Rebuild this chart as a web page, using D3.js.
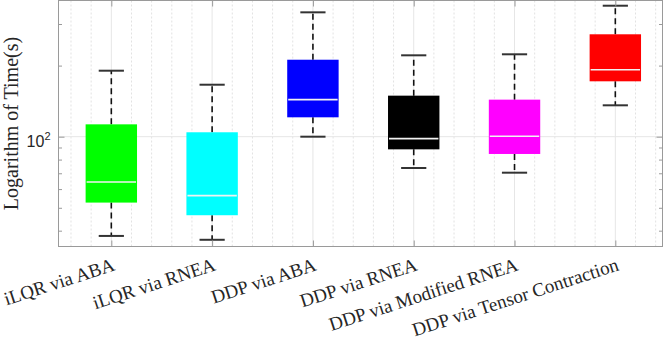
<!DOCTYPE html>
<html>
<head>
<meta charset="utf-8">
<script src="https://cdn.jsdelivr.net/npm/d3@7"></script>
<style>
  body { margin: 0; background: #fff; }
  svg { display: block; }
</style>
</head>
<body>
<div id="chart"></div>
<script>
// Box plot data (seconds)
const categories = ["iLQR via ABA", "iLQR via RNEA", "DDP via ABA", "DDP via RNEA",
                    "DDP via Modified RNEA", "DDP via Tensor Contraction"];
const whiskerLow  = [38.0, 36.6, 100.0, 73.7, 70.4, 135.8];
const q1          = [52.6, 46.5, 120.8, 88.4, 84.5, 171.6];
const medians     = [64.3, 56.3, 143.5, 98.1, 100.4, 192.1];
const q3          = [112.8, 104.4, 211.8, 149.2, 143.5, 271.4];
const whiskerHigh = [190.3, 166.0, 336.2, 221.1, 223.3, 358.6];
const boxColors   = ["#00ff00", "#00ffff", "#0000ff", "#000000", "#ff00ff", "#ff0000"];
const yMajorTicks = [100];
const yMinorTicks = [40, 50, 60, 70, 80, 90, 200, 300];

function drawChart() {
    const W = 664, H = 346;
    const left = 58.5, right = 662.5, top = 0.5, bottom = 246.5;

    const svg = d3.select("#chart").append("svg")
        .attr("width", W).attr("height", H);

    const x = d3.scaleLinear().domain([0.476, 6.468]).range([left, right]);
    const y = d3.scaleLog().domain([34.28, 377.3]).range([bottom, top]);

    const grid = svg.append("g");

    // minor vertical grid (dotted)
    const minorX = d3.range(0.6, 6.45, 0.2).filter(v => Math.abs(v - Math.round(v)) > 0.05);
    grid.selectAll(".mgx").data(minorX).enter().append("line")
        .attr("x1", d => x(d)).attr("x2", d => x(d))
        .attr("y1", top).attr("y2", bottom)
        .attr("stroke", "#e2e2e2").attr("stroke-width", 1)
        .attr("stroke-dasharray", "2,2");

    // major grid
    grid.selectAll(".gx").data(d3.range(1, categories.length + 1)).enter().append("line")
        .attr("x1", d => x(d)).attr("x2", d => x(d))
        .attr("y1", top).attr("y2", bottom)
        .attr("stroke", "#e6e6e6").attr("stroke-width", 1);
    grid.selectAll(".gy").data(yMajorTicks).enter().append("line")
        .attr("x1", left).attr("x2", right)
        .attr("y1", d => y(d)).attr("y2", d => y(d))
        .attr("stroke", "#e6e6e6").attr("stroke-width", 1);

    // boxes
    const boxW = 0.51, capW = 0.25;
    const data = categories.map((c, i) => ({
        pos: i + 1, lo: whiskerLow[i], q1: q1[i], med: medians[i],
        q3: q3[i], hi: whiskerHigh[i], color: boxColors[i]
    }));
    const g = svg.append("g");

    // whiskers
    g.selectAll(".wu").data(data).enter().append("line")
        .attr("x1", d => x(d.pos)).attr("x2", d => x(d.pos))
        .attr("y1", d => y(d.q3)).attr("y2", d => y(d.hi))
        .attr("stroke", "#111").attr("stroke-width", 1.6)
        .attr("stroke-dasharray", "6,4");
    g.selectAll(".wl").data(data).enter().append("line")
        .attr("x1", d => x(d.pos)).attr("x2", d => x(d.pos))
        .attr("y1", d => y(d.q1)).attr("y2", d => y(d.lo))
        .attr("stroke", "#111").attr("stroke-width", 1.6)
        .attr("stroke-dasharray", "6,4");

    // caps
    ["hi", "lo"].forEach(k => {
        g.selectAll(".cap-" + k).data(data).enter().append("line")
            .attr("x1", d => x(d.pos - capW / 2)).attr("x2", d => x(d.pos + capW / 2))
            .attr("y1", d => y(d[k])).attr("y2", d => y(d[k]))
            .attr("stroke", "#333").attr("stroke-width", 2);
    });

    // box rectangles
    g.selectAll(".box").data(data).enter().append("rect")
        .attr("x", d => x(d.pos - boxW / 2))
        .attr("width", d => x(d.pos + boxW / 2) - x(d.pos - boxW / 2))
        .attr("y", d => y(d.q3))
        .attr("height", d => y(d.q1) - y(d.q3))
        .attr("fill", d => d.color);

    // medians
    g.selectAll(".med").data(data).enter().append("line")
        .attr("x1", d => x(d.pos - boxW / 2) + 1).attr("x2", d => x(d.pos + boxW / 2) - 1)
        .attr("y1", d => y(d.med)).attr("y2", d => y(d.med))
        .attr("stroke", "#f2f2f2").attr("stroke-width", 1.6);

    // axes (ticks pointing inward)
    const axColor = "#9a9a9a";
    const axes = svg.append("g");
    const styleAxis = sel => {
        sel.select(".domain").remove();
        sel.selectAll(".tick line").attr("stroke", axColor);
        sel.selectAll(".tick text").remove();
    };
    axes.append("g").attr("transform", `translate(0,${bottom})`)
        .call(d3.axisBottom(x).tickValues(d3.range(1, 7)).tickSize(-6)).call(styleAxis);
    axes.append("g").attr("transform", `translate(0,${top})`)
        .call(d3.axisTop(x).tickValues(d3.range(1, 7)).tickSize(-6)).call(styleAxis);
    axes.append("g").attr("transform", `translate(${left},0)`)
        .call(d3.axisLeft(y).tickValues(yMajorTicks).tickSize(-6)).call(styleAxis);
    axes.append("g").attr("transform", `translate(${left},0)`)
        .call(d3.axisLeft(y).tickValues(yMinorTicks).tickSize(-3.5)).call(styleAxis);
    axes.append("g").attr("transform", `translate(${right},0)`)
        .call(d3.axisRight(y).tickValues(yMajorTicks).tickSize(-6)).call(styleAxis);
    axes.append("g").attr("transform", `translate(${right},0)`)
        .call(d3.axisRight(y).tickValues(yMinorTicks).tickSize(-3.5)).call(styleAxis);

    axes.append("rect")
        .attr("x", left).attr("y", top)
        .attr("width", right - left).attr("height", bottom - top)
        .attr("fill", "none").attr("stroke", axColor).attr("stroke-width", 1);

    // y tick label 10^2
    yMajorTicks.forEach(v => {
        const t = svg.append("text")
            .attr("x", left - 8).attr("y", y(v) + 10)
            .attr("text-anchor", "end")
            .style("font-family", "'Liberation Sans', Arial, sans-serif")
            .style("font-size", "16px")
            .attr("fill", "#262626");
        const exp = Math.round(Math.log10(v));
        t.append("tspan").text("10");
        t.append("tspan").attr("dy", -7).style("font-size", "11px").text(exp);
    });

    // x tick labels, rotated
    svg.selectAll(".xlabel").data(data).enter().append("text")
        .attr("text-anchor", "end")
        .attr("transform", d => `translate(${x(d.pos) + 4.5},270) rotate(-18)`)
        .style("font-family", "'Liberation Serif', 'Times New Roman', serif")
        .style("font-size", "19px")
        .attr("fill", "#262626")
        .text((d, i) => categories[i]);

    // y axis label
    svg.append("text")
        .attr("transform", `translate(18,${(top + bottom) / 2}) rotate(-90)`)
        .attr("text-anchor", "middle")
        .style("font-family", "'Liberation Serif', 'Times New Roman', serif")
        .style("font-size", "20px")
        .attr("fill", "#262626")
        .text("Logarithm of Time(s)");
}

drawChart();
</script>
</body>
</html>
